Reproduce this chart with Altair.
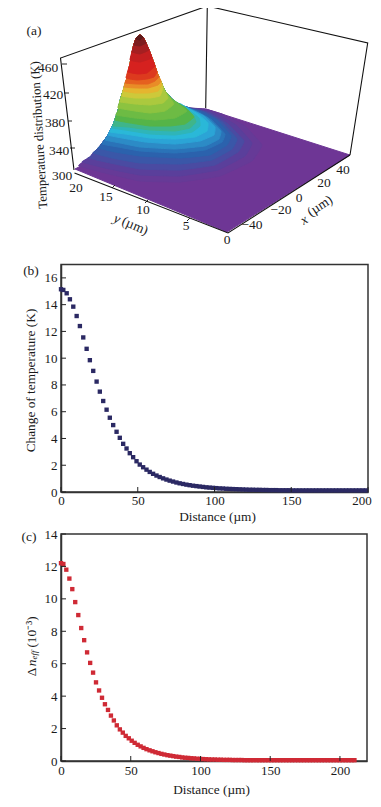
import altair as alt
import pandas as pd

# ---------- panel (b) ----------
dist_b = [0,1.5,3.7,5.8,8.0,10.2,12.3,14.5,16.7,18.8,21.0,
 23.2,25.3,27.5,29.7,31.8,34.0,36.2,38.3,40.5,42.7,
 44.8,47.0,49.2,51.3,53.5,55.7,57.8,60.0,62.2,64.3,
 66.5,68.7,70.8,73.0,75.2,77.3,79.5,81.7,83.8,86.0,
 88.2,90.3,92.5,94.7,96.8,99.0,101.2,103.3,105.5,107.7,
 109.8,112.0,114.2,116.3,118.5,120.7,122.8,125.0,127.2,129.3,
 131.5,133.7,135.8,138.0,140.2,142.3,144.5,146.7,148.8,151.0,
 153.2,155.3,157.5,159.7,161.8,164.0,166.2,168.3,170.5,172.7,
 174.8,177.0,179.2,181.3,183.5,185.7,187.8,190.0,192.2,194.3,
 196.5,198.7]
temp_b = [15.15,15.1,14.85,14.4,13.85,13.15,12.4,11.55,10.7,9.85,9.05,
 8.25,7.5,6.8,6.15,5.55,5.0,4.5,4.05,3.6,3.25,
 2.9,2.6,2.3,2.05,1.85,1.67,1.5,1.36,1.23,1.12,
 1.02,.93,.85,.78,.71,.65,.6,.55,.51,.47,
 .44,.41,.38,.35,.33,.31,.29,.27,.26,.24,
 .23,.22,.21,.2,.19,.18,.17,.17,.16,.16,
 .15,.15,.14,.14,.14,.13,.13,.13,.13,.12,
 .12,.12,.12,.12,.12,.12,.12,.12,.12,.12,
 .12,.12,.12,.12,.12,.12,.12,.12,.12,.12,
 .12,.12]

# ---------- panel (c) ----------
dist_c = [0,1.7,3.8,6.0,8.1,10.2,12.4,14.5,16.6,18.7,20.9,
 23.0,25.1,27.3,29.4,31.5,33.7,35.8,37.9,40.0,42.2,
 44.3,46.4,48.6,50.7,52.8,55.0,57.1,59.2,61.3,63.5,
 65.6,67.7,69.9,72.0,74.1,76.3,78.4,80.5,82.6,84.8,
 86.9,89.0,91.2,93.3,95.4,97.6,99.7,101.8,103.9,106.1,
 108.2,110.3,112.5,114.6,116.7,118.9,121.0,123.1,125.2,127.4,
 129.5,131.6,133.8,135.9,138.0,140.2,142.3,144.4,146.5,148.7,
 150.8,152.9,155.1,157.2,159.3,161.5,163.6,165.7,167.8,170.0,
 172.1,174.2,176.4,178.5,180.6,182.8,184.9,187.0,189.1,191.3,
 193.4,195.5,197.7,199.8,201.9,204.1,206.2,208.3,210.4]
dn_c = [12.2,12.15,11.8,11.25,10.6,9.8,9.0,8.2,7.45,6.7,6.05,
 5.45,4.85,4.35,3.9,3.5,3.15,2.8,2.5,2.2,1.95,
 1.75,1.55,1.4,1.25,1.12,1.0,.9,.81,.73,.66,
 .6,.54,.49,.44,.4,.36,.33,.3,.27,.25,
 .22,.2,.19,.17,.16,.14,.13,.12,.11,.1,
 .09,.09,.08,.08,.07,.07,.07,.06,.06,.06,
 .06,.05,.05,.05,.05,.05,.05,.05,.05,.05,
 .05,.05,.05,.05,.05,.05,.05,.05,.05,.05,
 .05,.05,.05,.05,.05,.05,.05,.05,.05,.05,
 .05,.05,.05,.05,.05,.05,.05,.05,.05]

# ---------- panel (a): surface ----------
sil_left = [(74,171),(80,166),(90,159),(95,153),(100,148),(108,137),(113,127),(118,113),
            (120,103),(124,90),(127,80),(130,66),(133,50),(135,43),(137,39),(140,37)]
sil_right = [(143,39),(145,43),(149,52),(152,60),(155,68),(158,77),(165,93),(172,101),
             (177,105),(183,108),(190,110),(206,111)]
floor_poly = [(75,171),(227,234),(350,157),(206,111),(190,111)]
band_colors = ["#663a97","#5a3f9b","#4a4ba2","#3a57a8","#2b62ad","#2a73b8","#2c8bc6","#2ba4d6",
               "#2ab8d8","#2fb5b8","#3fb58a","#55b448","#6dbb44","#8cc340","#abc93e","#cdc93a",
               "#e5b52f","#e98c27","#e5611f","#dd3a1e","#d6211f","#c41f20","#a51f21","#7e1d1f","#5a1a1a"]
band_edges = [
 [(79,168),(105,175),(140,183),(180,184),(220,178),(252,163),(262,147),(245,128),(222,116),(205,111)],
 [(82,164),(105,170),(140,177),(180,178),(218,172),(245,158),(252,145),(236,127),(215,115),(200,111)],
 [(88,160),(110,165),(140,171),(180,172),(215,167),(238,154),(244,143),(228,126),(210,115),(196,111)],
 [(93,155),(112,160),(140,165),(180,166),(212,162),(232,151),(237,141),(222,124),(205,114),(192,111)],
 [(98,150),(115,154),(140,158),(180,160),(210,157),(227,147),(231,138),(217,122),(200,113),(190,111)],
 [(102,146),(118,149),(140,153),(175,155),(205,152),(222,144),(225,136),(212,122),(197,113),(188,110)],
 [(105,142),(120,145),(140,149),(175,151),(205,148),(219,141),(221,133),(208,120),(195,113),(186,109)],
 [(108,137),(122,140),(145,144),(175,146),(200,143),(214,137),(215,129),(204,118),(192,112),(184,108)],
 [(110,134),(125,136),(150,140),(175,141),(195,139),(207,133),(208,125),(198,116),(189,111),(181,106)],
 [(112,130),(125,132),(150,136),(175,137),(192,134),(200,128),(199,120),(190,113),(180,106)],
 [(113,128),(128,129),(150,132),(175,133),(190,130),(196,124),(193,117),(186,111),(178,105)],
 [(115,122),(130,125),(150,128),(170,128),(185,126),(194,119),(186,110),(176,104)],
 [(116,117),(135,120),(155,122),(175,120),(187,113),(172,101)],
 [(118,110),(135,113),(150,115),(165,113),(174,106),(168,97)],
 [(120,104),(135,106),(150,107),(163,105),(168,100),(164,91)],
 [(122,98),(135,100),(150,100),(160,98),(163,89)],
 [(123,93),(135,95),(148,95),(158,93),(162,86)],
 [(124,89),(137,90),(148,90),(158,87),(161,83)],
 [(125,85),(137,86),(148,86),(155,83),(159,79)],
 [(126,80),(137,82),(147,81),(154,79),(157,74)],
 [(128,74),(138,76),(147,75),(155,68)],
 [(130,62),(140,64),(152,60)],
 [(132,54),(140,56),(149,52)],
 [(134,47),(140,48),(146,45)],
 [(136,41),(140,42),(143,39)],
]
frame_segments = [
 [(74,172),(60.5,60),(207.3,8),(205.7,110)],
 [(207.3,8),(367.7,45),(350,157)],
 [(74.5,175),(228,235),(350,157)],
]
axis_ticks_3d = [
 [(62,66),(67,66)],[(64,95),(69,95)],[(68,123),(72,123)],[(70,150),(75,150)],
 [(112,190),(115,187)],[(145,205),(148,202)],[(187,223),(190,220)],
]
tick_text_3d = [("460",48,70),("420",53,97),("380",55,125),("340",59,153),("300",62,178),
                ("20",76,190),("15",106,199),("10",143,212),("5",186,228),("0",227,242),
                ("\u221240",252,227),("\u221220",281,212),("0",299,200),("20",324,185),("40",343,172)]

FONT = "Liberation Serif"
INK = "#1a1a1a"
W_A, H_A = 307, 216.5
x_a = alt.Scale(domain=[61, 368], nice=False, zero=False)
y_a = alt.Scale(domain=[224.5, 8], nice=False, zero=False)

def polygon(points, color, interp="cardinal-closed"):
    df = pd.DataFrame(points, columns=["px", "py"]).assign(i=range(len(points)))
    return alt.Chart(df).mark_line(fill=color, stroke=color, strokeWidth=1, interpolate=interp, tension=0.75).encode(
        x=alt.X("px:Q", scale=x_a, axis=None),
        y=alt.Y("py:Q", scale=y_a, axis=None),
        order="i:Q")

def polyline(points, width=1.1):
    df = pd.DataFrame(points, columns=["px", "py"]).assign(i=range(len(points)))
    return alt.Chart(df).mark_line(color="#111", strokeWidth=width).encode(
        x=alt.X("px:Q", scale=x_a, axis=None),
        y=alt.Y("py:Q", scale=y_a, axis=None),
        order="i:Q")

def label_a(t, px, py, size=13.5, angle=0, italic=False):
    df = pd.DataFrame({"px": [px], "py": [py], "t": [t]})
    return alt.Chart(df).mark_text(font=FONT, fontSize=size, color=INK, angle=angle,
                                   fontStyle="italic" if italic else "normal").encode(
        x=alt.X("px:Q", scale=x_a, axis=None),
        y=alt.Y("py:Q", scale=y_a, axis=None),
        text="t:N")

layers = [polygon(floor_poly, "#6e3695", "linear-closed")]
for edge, color in zip(band_edges, band_colors):
    hood_left = [p for p in sil_left if p[1] < edge[0][1]]
    hood_right = [p for p in sil_right if p[1] < edge[-1][1]]
    layers.append(polygon(edge + hood_right[::-1] + hood_left[::-1], color))
for seg in frame_segments:
    layers.append(polyline(seg))
for seg in axis_ticks_3d:
    layers.append(polyline(seg, 0.9))
for t, px, py in tick_text_3d:
    layers.append(label_a(t, px, py))
layers += [
    label_a("(a)", 34, 33),
    label_a("Temperature distribution (K)", 39, 137, 12.8, 266.7),
    label_a("y", 117, 221, 13.5, 23, True),
    label_a("(\u00b5m)", 135, 228, 13.5, 23),
    label_a("x", 304, 222, 13.5, 327, True),
    label_a("(\u00b5m)", 320, 208, 13.5, 327),
]
panel_a = alt.layer(*layers).properties(width=W_A, height=H_A)

# ---------- 2-D panels ----------
def panel(xs, ys, color, xdom, ydom, xticks, yticks, w, h, tag, tag_x, tag_y, extra,
          label_pad, title_pad, label_shift, title_x):
    df = pd.DataFrame({"d": xs, "v": ys})
    xsc = alt.Scale(domain=xdom, nice=False, zero=False)
    ysc = alt.Scale(domain=ydom, nice=False, zero=False)
    xax = alt.Axis(values=xticks, ticks=False, grid=False, format="d",
                title="Distance (\u00b5m)", titleFont=FONT, titleFontSize=13.3, titleFontWeight="normal",
                titleColor=INK, titlePadding=title_pad, titleX=title_x, labelFont=FONT, labelFontSize=13, labelColor=INK,
                labelPadding=label_pad, labelFlush=False, labelOverlap=False, domainColor="#333", domainWidth=1.5,
                labelOffset=alt.expr(label_shift))
    yax = alt.Axis(values=yticks, ticks=False, grid=False, format="d",
                title=None, labelFont=FONT, labelFontSize=13, labelColor=INK,
                labelPadding=4, labelOverlap=False, domainColor="#333", domainWidth=1.5)
    base = alt.Chart(df).mark_square(size=19, color=color, opacity=1, clip=False).encode(
        x=alt.X("d:Q", scale=xsc, axis=xax),
        y=alt.Y("v:Q", scale=ysc, axis=yax))
    xt = alt.Chart(pd.DataFrame({"t": xticks})).mark_rule(color="#222", strokeWidth=1).encode(
        x=alt.X("t:Q", scale=xsc, axis=xax), y=alt.value(h - 5), y2=alt.value(h))
    yt = alt.Chart(pd.DataFrame({"t": yticks})).mark_rule(color="#222", strokeWidth=1).encode(
        y=alt.Y("t:Q", scale=ysc, axis=yax), x=alt.value(0), x2=alt.value(5))
    tg = alt.Chart(pd.DataFrame({"t": [tag]})).mark_text(font=FONT, fontSize=13.5, color=INK).encode(
        x=alt.value(tag_x), y=alt.value(tag_y), text="t:N")
    return alt.layer(base, xt, yt, tg, *extra).properties(
        width=w, height=h, view=alt.ViewBackground(stroke="#333", strokeWidth=1.5))

def piece(t, vx, vy, size=13.3, italic=False):
    return alt.Chart(pd.DataFrame({"t": [t]})).mark_text(
        font=FONT, fontSize=size, color=INK, angle=270,
        fontStyle="italic" if italic else "normal").encode(
        x=alt.value(vx), y=alt.value(vy), text="t:N")

panel_b = panel(dist_b, temp_b, "#2b2963", [0, 200], [0, 17], [0, 50, 100, 150, 200],
                [0, 2, 4, 6, 8, 10, 12, 14, 16], 307, 227.5,
                "(b)", -30, 6, [piece("Change of temperature (K)", -30, 116)], 2, 2.5,
                "datum.value == 200 ? -6.5 : 0", 156)
panel_c = panel(dist_c, dn_c, "#cf2a35", [0, 219.4], [0, 14], [0, 50, 100, 150, 200],
                [0, 2, 4, 6, 8, 10, 12, 14], 306, 227,
                "(c)", -32, 3, [piece("\u0394", -29, 138), piece("n", -29, 129, 13.3, True),
                                piece("eff", -27, 121, 9, True), piece("(10\u207b\u00b3)", -29, 98)], 3, 5,
                "0", 150)

chart = alt.vconcat(panel_a, panel_b, panel_c, spacing=41.5, bounds="flush").properties(
    padding={"left": 12, "top": -5, "right": 0, "bottom": 0}
).configure_view(stroke=None).configure_axis(labelOverlap=False)

chart.save("out.html", embed_options={"renderer": "svg", "actions": False})
